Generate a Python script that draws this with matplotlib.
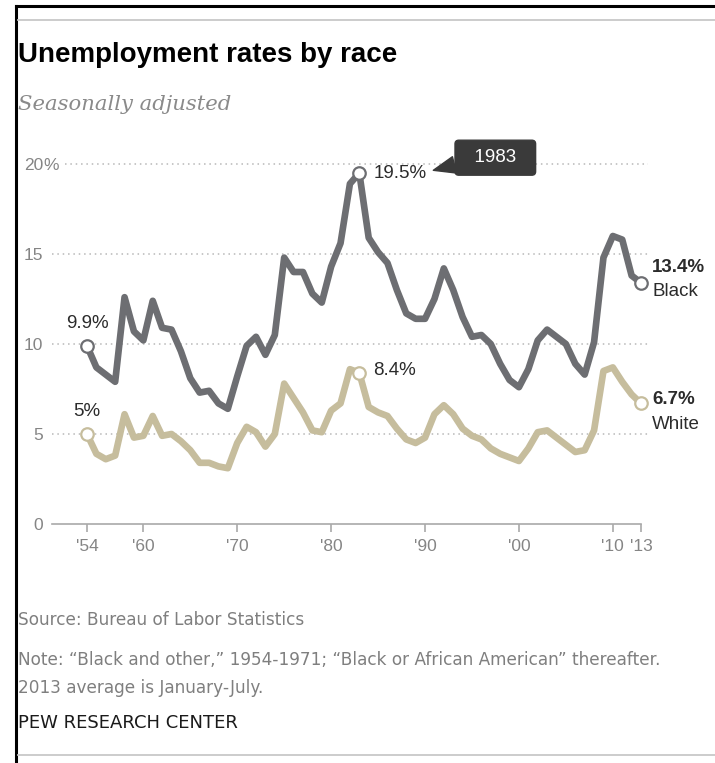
import matplotlib.pyplot as plt
from matplotlib.lines import Line2D

years = list(range(1954, 2014))
black = [9.9, 8.7, 8.3, 7.9, 12.6, 10.7, 10.2, 12.4, 10.9, 10.8,
         9.6, 8.1, 7.3, 7.4, 6.7, 6.4, 8.2, 9.9, 10.4, 9.4,
         10.5, 14.8, 14.0, 14.0, 12.8, 12.3, 14.3, 15.6, 18.9, 19.5,
         15.9, 15.1, 14.5, 13.0, 11.7, 11.4, 11.4, 12.5, 14.2, 13.0,
         11.5, 10.4, 10.5, 10.0, 8.9, 8.0, 7.6, 8.6, 10.2, 10.8,
         10.4, 10.0, 8.9, 8.3, 10.1, 14.8, 16.0, 15.8, 13.8, 13.4]
white = [5.0, 3.9, 3.6, 3.8, 6.1, 4.8, 4.9, 6.0, 4.9, 5.0,
         4.6, 4.1, 3.4, 3.4, 3.2, 3.1, 4.5, 5.4, 5.1, 4.3,
         5.0, 7.8, 7.0, 6.2, 5.2, 5.1, 6.3, 6.7, 8.6, 8.4,
         6.5, 6.2, 6.0, 5.3, 4.7, 4.5, 4.8, 6.1, 6.6, 6.1,
         5.3, 4.9, 4.7, 4.2, 3.9, 3.7, 3.5, 4.2, 5.1, 5.2,
         4.8, 4.4, 4.0, 4.1, 5.2, 8.5, 8.7, 7.9, 7.2, 6.7]

xticks = [1954, 1960, 1970, 1980, 1990, 2000, 2010, 2013]
xtick_labels = ["'54", "'60", "'70", "'80", "'90", "'00", "'10", "'13"]
yticks = [0, 5, 10, 15, 20]
ytick_labels = ["0", "5", "10", "15", "20"]
marked_years = [1954, 1983, 2013]

BLACK_C = "#6d6e72"
WHITE_C = "#c6bd9d"
GRID_C = "#b8b8b8"
TICK_C = "#858585"
SANS = ["Liberation Sans", "DejaVu Sans"]

W, H = 715, 763
fig = plt.figure(figsize=(W / 100, H / 100), dpi=100)

# axes placed in pixel terms: x 52..648, y=0 at 524, 18 px per point
ax_left, ax_right = 52, 648
ax_bottom, ax_top = 524, 524 - 21 * 18
ax = fig.add_axes([ax_left / W, (H - ax_bottom) / H,
                   (ax_right - ax_left) / W, (ax_bottom - ax_top) / H])
px_per_year = 9.39
ax.set_xlim(1954 - (87 - ax_left) / px_per_year, 1954 + (ax_right - 87) / px_per_year)
ax.set_ylim(0, 21)

# gridlines (the top one starts after the "20%" label)
for t in yticks[1:]:
    start = (65 - ax_left) / (ax_right - ax_left) if t == 20 else 0.0
    ax.axhline(t, xmin=start, xmax=1, color=GRID_C, lw=1.1,
               linestyle=(0, (1, 2.5)), zorder=1)

for s in ["top", "right", "left"]:
    ax.spines[s].set_visible(False)
ax.spines["bottom"].set_color("#a9a9a9")
ax.spines["bottom"].set_linewidth(1.2)
ax.spines["bottom"].set_bounds(ax.get_xlim()[0], 2013)

ax.set_xticks(xticks, xtick_labels)
ax.set_yticks(yticks, ytick_labels)
ax.tick_params(axis="x", length=6, width=1.2, color="#a9a9a9", pad=5,
               labelsize=12.5, labelcolor=TICK_C)
ax.tick_params(axis="y", length=0, pad=6.5, labelsize=12.5, labelcolor=TICK_C)
for lab in ax.get_yticklabels() + ax.get_xticklabels():
    lab.set_family(SANS)
ax.annotate("%", (0, 20), xycoords=("axes fraction", "data"), xytext=(-6.5, 0),
            textcoords="offset points", ha="left", va="center_baseline",
            fontsize=12.5, color=TICK_C, family=SANS, annotation_clip=False)

# lines
ax.plot(years, black, color=BLACK_C, lw=4.8, solid_joinstyle="round",
        solid_capstyle="round", zorder=3, clip_on=False)
ax.plot(years, white, color=WHITE_C, lw=4.8, solid_joinstyle="round",
        solid_capstyle="round", zorder=3, clip_on=False)
for yr in marked_years:
    i = years.index(yr)
    ax.plot(yr, black[i], "o", ms=9, mfc="white", mec=BLACK_C, mew=1.6,
            zorder=4, clip_on=False)
    ax.plot(yr, white[i], "o", ms=9, mfc="white", mec=WHITE_C, mew=1.6,
            zorder=4, clip_on=False)

lab_kw = dict(fontsize=13.5, color="#2b2b2b", family=SANS,
              textcoords="offset points", annotation_clip=False)
i83 = years.index(1983)
ax.annotate(f"{black[0]:.1f}%", (1954, black[0]), xytext=(0, 10),
            ha="center", va="bottom", **lab_kw)
ax.annotate(f"{white[0]:.0f}%", (1954, white[0]), xytext=(0, 10),
            ha="center", va="bottom", **lab_kw)
ax.annotate(f"{black[i83]:.1f}%", (1983, black[i83]), xytext=(10, 0),
            ha="left", va="center", **lab_kw)
ax.annotate(f"{white[i83]:.1f}%", (1983, white[i83]), xytext=(10, 2),
            ha="left", va="center", **lab_kw)

# end labels
ax.annotate(f"{black[-1]:.1f}%", (2013, black[-1]), xytext=(8, 11),
            ha="left", va="center", fontweight="bold", **lab_kw)
ax.annotate("Black", (2013, black[-1]), xytext=(8, -6.5),
            ha="left", va="center", **lab_kw)
ax.annotate(f"{white[-1]:.1f}%", (2013, white[-1]), xytext=(8, 2.5),
            ha="left", va="center", fontweight="bold", **lab_kw)
ax.annotate("White", (2013, white[-1]), xytext=(8, -15),
            ha="left", va="center", **lab_kw)

# 1983 tooltip
ax.annotate("  1983  ", xy=(1983 + 74 / px_per_year, black[i83] + 0.15),
            xytext=(1983 + 136 / px_per_year, black[i83] + 0.85),
            ha="center", va="center", fontsize=13.5, color="white", family=SANS,
            bbox=dict(boxstyle="round,pad=0.48,rounding_size=0.2",
                      fc="#3a3a3a", ec="#3a3a3a"),
            arrowprops=dict(arrowstyle="wedge,tail_width=0.9,shrink_factor=0.5",
                            fc="#3a3a3a", ec="#3a3a3a",
                            relpos=(0.0, 0.22), shrinkA=0, shrinkB=0),
            zorder=5)

# titles and footer
fig.text(18 / W, 1 - 55 / H, "Unemployment rates by race", fontsize=20,
         fontweight="bold", color="black", family=SANS, va="center")
fig.text(18 / W, 1 - 104 / H, "Seasonally adjusted", fontsize=15.2,
         style="italic", color="#8a8a8a", family=["DejaVu Serif"], va="center")
foot_kw = dict(fontsize=12.2, color="#7f7f7f", family=["DejaVu Sans"], va="center")
fig.text(18 / W, 1 - 620 / H, "Source: Bureau of Labor Statistics", **foot_kw)
fig.text(18 / W, 1 - 660 / H,
         "Note: \u201cBlack and other,\u201d 1954-1971; \u201cBlack or African American\u201d thereafter.",
         **foot_kw)
fig.text(18 / W, 1 - 688 / H, "2013 average is January-July.", **foot_kw)
fig.text(18 / W, 1 - 723 / H, "PEW RESEARCH CENTER", fontsize=13,
         color="#1a1a1a", family=["DejaVu Sans"], va="center")

# frame lines
fig.add_artist(Line2D([16 / W, 1], [1 - 6 / H, 1 - 6 / H], color="black", lw=2.2))
fig.add_artist(Line2D([16 / W, 16 / W], [0, 1 - 6 / H], color="black", lw=2.2))
fig.add_artist(Line2D([18 / W, 1], [1 - 20 / H, 1 - 20 / H], color="#c8c8c8", lw=1.3))
fig.add_artist(Line2D([18 / W, 1], [1 - 755 / H, 1 - 755 / H], color="#c8c8c8", lw=1.3))

fig.savefig("out.png", dpi=100)
